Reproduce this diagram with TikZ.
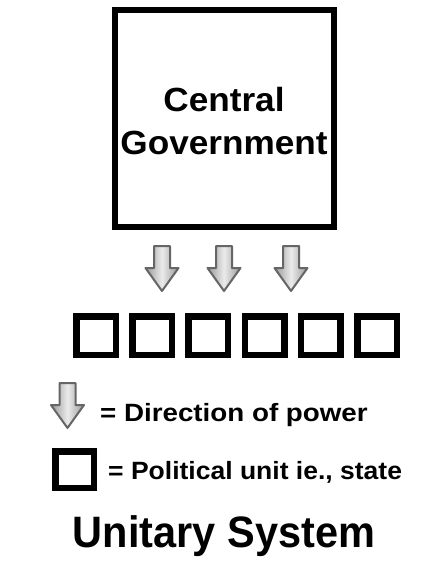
\documentclass[tikz,border=0pt]{standalone}
\usepackage{graphicx}
\usepackage{fontspec}
\setmainfont{Liberation Sans}

\newcommand{\wider}[2]{\scalebox{#1}[1]{#2}}

\begin{document}
\begin{tikzpicture}[x=1pt,y=-1pt,
    govbox/.style={draw,line width=6pt,minimum width=219pt,minimum height=217pt,inner sep=0pt},
    unitbox/.style={draw,line width=6.5pt,minimum width=39.5pt,minimum height=38.5pt,inner sep=0pt},
    legendtext/.style={font=\bfseries\fontsize{25}{30}\selectfont,inner sep=0pt,anchor=base west},
    powerarrow/.pic={\draw[line width=2pt,draw=black!60,line join=round,
        left color=black!40,right color=black!40,middle color=black!8]
        (-8,0)--++(16,0)--++(0,22)--++(8.5,0)--(0,45)--(-16.5,22)--++(8.5,0)--cycle;}]
    \path[use as bounding box,fill=white] (0,0) rectangle (445,570);
    % central government
    \node[govbox] (gov) at (224.5,118.5) {};
    \node[align=center,font=\bfseries\fontsize{33.5}{43}\selectfont,inner sep=0pt] (govname)
        at (224,121) {\wider{1.05}{Central}\\\wider{1.05}{Government}};
    % power flowing down
    \pic (pa1) at (162,246) {powerarrow};
    \pic (pa2) at (224,246) {powerarrow};
    \pic (pa3) at (291,246) {powerarrow};
    % the states
    \foreach \i in {0,...,5}
        \node[unitbox] (u\i) at (96+56.2*\i,335.5) {};
    % legend
    \pic (legarrow) at (67.5,383) {powerarrow};
    \node[legendtext] (legpower) at (100,421) {\wider{1.11}{= Direction of power}};
    \node[unitbox,minimum width=38.5pt,minimum height=36.5pt] (legunit) at (74.5,469.5) {};
    \node[legendtext] (legstate) at (108,479) {\wider{1.06}{= Political unit ie., state}};
    \node[font=\bfseries\fontsize{44}{50}\selectfont,inner sep=0pt,anchor=base] (title)
        at (224,547) {\wider{0.943}{Unitary System}};
\end{tikzpicture}
\end{document}
